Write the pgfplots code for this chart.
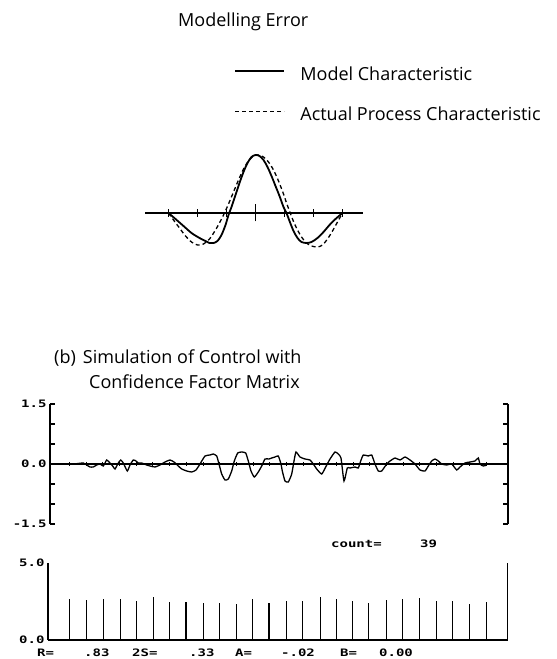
\documentclass[border=0pt]{standalone}
\usepackage{fontspec}
\setmainfont{Open Sans}
\newfontfamily\dmfont{DejaVu Sans Mono}
\usepackage{graphicx}
\usepackage{pgfplots}
\pgfplotsset{compat=1.18}
% dot-matrix style labels of the plotter output
\newcommand{\dm}[1]{\scalebox{1.12}[0.82]{\fontsize{12.5}{14}\selectfont\dmfont\bfseries #1}}

\begin{document}
\begin{tikzpicture}[x=1pt,y=1pt,font=\fontsize{18}{22}\selectfont]
\useasboundingbox (0,0) rectangle (557,659);
\coordinate (topSW) at (145,401);
\coordinate (midSW) at (50,135);
\coordinate (botSW) at (48,19);

% (a) modelling error
\begin{axis}[at={(topSW)}, anchor=south west, scale only axis,
  width=218pt, height=110pt,
  xmin=-110.5, xmax=107.5, ymin=-45, ymax=65,
  axis x line=middle, axis y line=none,
  axis line style={-, line width=1.6pt},
  xtick={-87,-58,-29,29,58,87}, xticklabels={},
  tick align=center, major tick length=8pt,
  tick style={line width=1.4pt, black},
  extra x ticks={0}, extra x tick labels={},
  extra x tick style={major tick length=17pt},
  clip=false,
  legend cell align=left,
  legend image code/.code={\draw[#1] (0pt,3pt) -- (49pt,3pt);},
  legend style={at={(axis description cs:0.41,1.76)}, anchor=north west,
    draw=none, fill=none, inner sep=0pt, row sep=21pt, column sep=13pt,
    font=\fontsize{18}{22}\selectfont},
]
\addplot[black, line width=1.8pt, smooth, tension=0.5] coordinates {
  (-87,0) (-80,-6) (-72,-13) (-64,-20) (-56,-25) (-50,-28) (-46,-30) (-42,-30)
  (-38,-28) (-34,-22) (-30,-12) (-27,-2) (-24,6) (-20,18) (-16,30) (-12,41)
  (-8,50) (-4,56) (0,58) (4,57) (8,53) (12,46) (16,37) (20,27) (24,17) (28,6)
  (31,0) (34,-8) (38,-18) (42,-25) (46,-29) (51,-30) (56,-29) (62,-25)
  (68,-19) (74,-12) (80,-6) (87,0)};
\addlegendentry{Model Characteristic}
\addplot[black, line width=1.3pt, dash pattern=on 4pt off 3pt, smooth, tension=0.5] coordinates {
  (-87,0) (-82,-7) (-76,-15) (-70,-23) (-64,-29) (-58,-32) (-52,-31) (-46,-26)
  (-40,-17) (-35,-8) (-31,0) (-27,9) (-22,21) (-17,33) (-12,44) (-7,52)
  (-2,57) (3,58) (8,56) (13,51) (18,43) (23,32) (28,19) (31,10) (34,2)
  (37,-6) (41,-15) (46,-24) (51,-30) (56,-33) (62,-34) (67,-32) (72,-26)
  (77,-18) (82,-9) (87,0)};
\addlegendentry{Actual Process Characteristic}
\end{axis}

% (b) simulated control error
\begin{axis}[at={(midSW)}, anchor=south west, scale only axis,
  width=458pt, height=120pt,
  xmin=0, xmax=458, ymin=-1.5, ymax=1.5,
  axis x line=none, axis y line=box,
  axis line style={line width=1.5pt},
  ytick={-1.5,-1,-0.5,0,0.5,1,1.5},
  yticklabels={\dm{-1.5},,,\dm{0.0},,,\dm{1.5}},
  ytick pos=both, yticklabel pos=left,
  tick align=inside, major tick length=5pt,
  tick style={line width=1.2pt, black},
  clip=false,
]
\addplot[black, line width=1.6pt] coordinates {(0,0) (458,0)};
\addplot[black, only marks, mark=|, mark size=2pt, mark options={line width=0.8pt}] coordinates {
  (19.5,0) (36.2,0) (52.8,0) (69.5,0) (86.2,0) (102.8,0) (119.5,0) (136.2,0)
  (152.9,0) (169.5,0) (186.2,0) (202.9,0) (219.5,0) (236.2,0) (252.9,0)
  (269.5,0) (286.2,0) (302.9,0) (319.6,0) (336.2,0) (352.9,0) (369.6,0)
  (386.2,0) (402.9,0) (419.6,0) (436.2,0)};
\addplot[black, line width=1.3pt, smooth, tension=0.3] coordinates {
  (21.7,0) (26.7,0.008) (33.3,0.025) (36.7,-0.025) (40,-0.075) (43.3,-0.075)
  (46.7,-0.025) (50,0) (53.3,-0.05) (56.7,0.1) (60,0.025) (62.7,-0.05)
  (65,-0.125) (68.3,0.025) (70.7,0.1) (73.3,0.025) (77.3,-0.175) (80,-0.025)
  (83.3,0.1) (86,0.075) (88.3,0.025) (91.7,0.025) (96.7,-0.025) (100,-0.05)
  (105,-0.075) (110,-0.025) (115,0.05) (120,0.1) (124,0.05) (128.3,-0.05)
  (131.7,-0.125) (136.7,-0.175) (141.7,-0.2) (146,-0.15) (150,0) (155,0.2)
  (160,0.225) (163.3,0.25) (166.7,0.2) (169,0) (171.7,-0.25) (175,-0.4)
  (178.3,-0.375) (181.7,-0.175) (184.3,0.075) (187.7,0.275) (191.7,0.3)
  (195.7,0.275) (198.3,0.075) (201,-0.175) (204.3,-0.325) (208.3,-0.2)
  (211.7,-0.05) (215,0.125) (219,0.125) (221.7,0.15) (225,0.175) (228.3,0.2)
  (231,0) (232.3,-0.175) (235,-0.425) (238.3,-0.45) (241.7,-0.25) (244,0.075)
  (246,0.3) (250,0.175) (255,0.125) (260,0.1) (263.3,0) (266.7,-0.125)
  (271.7,-0.25) (275.7,-0.075) (280,0.125) (285,0.3) (288.3,0.25) (291,0.15)
  (294,-0.425) (297.3,-0.1) (300,-0.1) (305,-0.075) (308.3,-0.1) (310.7,0.075)
  (313.3,0.225) (318.3,0.2) (321.7,0.225) (325,0) (328.3,-0.175) (331.7,-0.175)
  (336.7,0) (340,0.075) (345,0.15) (350,0.1) (355,0.175) (360,0.1) (365,0)
  (370,-0.15) (375,-0.175) (378.3,-0.05) (381.7,0.075) (385,0.125)
  (388.3,0.075) (391.7,0) (396.7,-0.025) (401.7,0) (406.7,-0.15) (410,-0.075)
  (415,0.025) (420,0.05) (425,0.075) (428.3,0.15) (430,0) (433.3,-0.05)
  (436.7,-0.025)};
\end{axis}

% confidence factor bars
\begin{axis}[at={(botSW)}, anchor=south west, scale only axis,
  width=459.5pt, height=77pt,
  xmin=0, xmax=459.5, ymin=0, ymax=5,
  axis x line=bottom, axis y line=box,
  axis line style={-, line width=1.5pt},
  xtick=\empty, ytick={0,5}, yticklabels={\dm{0.0},\dm{5.0}},
  ytick pos=left, major tick length=0pt,
  clip=false,
]
\addplot[black, ycomb, line width=1.2pt] coordinates {
  (21.5,2.68) (38.6,2.58) (55.3,2.64) (72.1,2.67) (88.1,2.56) (105.2,2.81)
  (121.2,2.49) (138,2.44) (155.1,2.38) (171.1,2.40) (188.2,2.31) (204.2,2.64)
  (221,2.40) (238.8,2.56) (254.8,2.53) (272.6,2.76) (288.7,2.66) (304.7,2.50)
  (320.7,2.40) (338.5,2.59) (354.6,2.65) (371.3,2.73) (388.4,2.52)
  (404.4,2.53) (421.5,2.33) (438.3,2.45)};
\end{axis}

\node[anchor=base west, inner sep=0pt] at (178,632) {Modelling Error};
\node[anchor=base west, inner sep=0pt] at (54,295) {(b)\hspace{7pt}Simulation of Control with};
\node[anchor=base west, inner sep=0pt] at (89,270) {Confidence Factor Matrix};

\node[anchor=west, inner sep=0pt] at (331,115) {\dm{count=}};
\node[anchor=west, inner sep=0pt] at (420,115) {\dm{39}};
\node[anchor=west, inner sep=0pt] at (37,6) {\dm{R=}};
\node[anchor=west, inner sep=0pt] at (84,6) {\dm{.83}};
\node[anchor=west, inner sep=0pt] at (132,6) {\dm{2S=}};
\node[anchor=west, inner sep=0pt] at (189,6) {\dm{.33}};
\node[anchor=west, inner sep=0pt] at (235,6) {\dm{A=}};
\node[anchor=west, inner sep=0pt] at (281,6) {\dm{-.02}};
\node[anchor=west, inner sep=0pt] at (340,6) {\dm{B=}};
\node[anchor=west, inner sep=0pt] at (379,6) {\dm{0.00}};
\end{tikzpicture}
\end{document}
